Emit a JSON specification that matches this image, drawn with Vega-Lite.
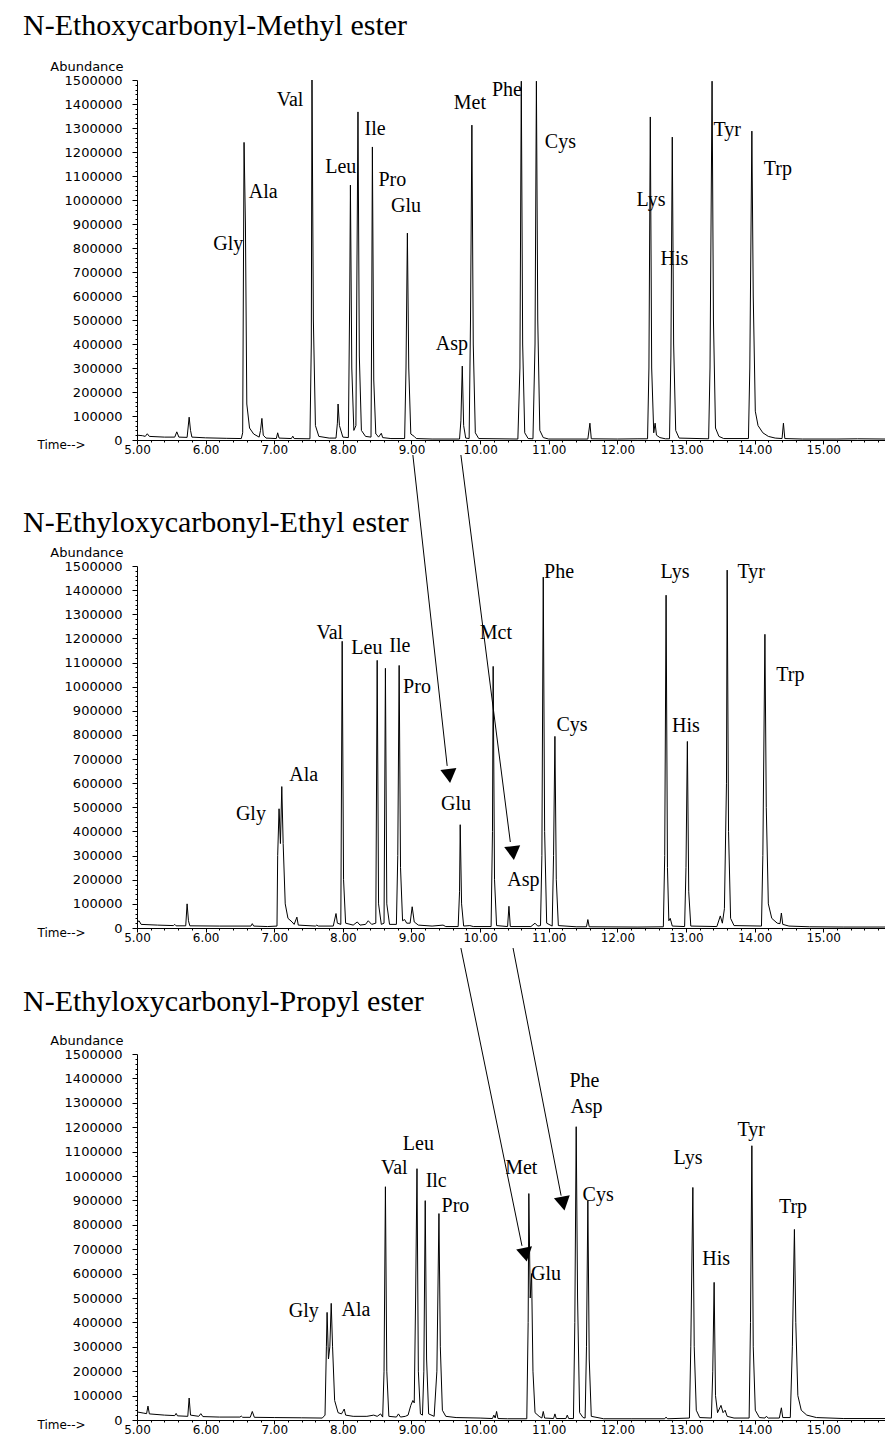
{
"$schema": "https://vega.github.io/schema/vega-lite/v6.json",
"autosize": {"type": "pad"},
"padding": {"left": 23, "top": 11, "right": 0, "bottom": 0},
"background": "white",
"spacing": 126,
"bounds": "flush",
"config": {
  "view": {"stroke": null},
  "axis": {"domainColor": "black", "domainWidth": 1, "tickColor": "black", "tickWidth": 1, "labelColor": "black", "labelFont": "DejaVu Sans", "labelFontSize": 12, "titleFont": "DejaVu Sans", "titleFontSize": 12, "titleFontWeight": "normal", "titleColor": "black", "grid": false},
  "title": {"font": "Liberation Serif", "fontSize": 30, "fontWeight": "normal", "color": "black", "anchor": "start", "frame": "group"},
  "text": {"font": "Liberation Serif", "fontSize": 20, "color": "black"}
},
"datasets": {
"trace": [
{"p":1,"t":5.00,"a":20000},{"p":1,"t":5.08,"a":18000},{"p":1,"t":5.12,"a":15000},{"p":1,"t":5.15,"a":26000},{"p":1,"t":5.18,"a":15000},{"p":1,"t":5.40,"a":12000},{"p":1,"t":5.55,"a":12000},{"p":1,"t":5.58,"a":34000},{"p":1,"t":5.61,"a":12000},{"p":1,"t":5.73,"a":11000},{"p":1,"t":5.76,"a":95000},{"p":1,"t":5.78,"a":40000},{"p":1,"t":5.80,"a":12000},{"p":1,"t":6.00,"a":9000},{"p":1,"t":6.30,"a":7000},{"p":1,"t":6.52,"a":6000},{"p":1,"t":6.54,"a":30000},{"p":1,"t":6.56,"a":1240000},{"p":1,"t":6.58,"a":900000},{"p":1,"t":6.60,"a":150000},{"p":1,"t":6.64,"a":50000},{"p":1,"t":6.70,"a":25000},{"p":1,"t":6.78,"a":12000},{"p":1,"t":6.80,"a":40000},{"p":1,"t":6.82,"a":90000},{"p":1,"t":6.84,"a":20000},{"p":1,"t":6.88,"a":8000},{"p":1,"t":7.03,"a":6000},{"p":1,"t":7.05,"a":30000},{"p":1,"t":7.07,"a":8000},{"p":1,"t":7.25,"a":6000},{"p":1,"t":7.27,"a":16000},{"p":1,"t":7.29,"a":6000},{"p":1,"t":7.52,"a":5000},{"p":1,"t":7.54,"a":400000},{"p":1,"t":7.55,"a":1500000},{"p":1,"t":7.57,"a":500000},{"p":1,"t":7.60,"a":60000},{"p":1,"t":7.65,"a":15000},{"p":1,"t":7.80,"a":8000},{"p":1,"t":7.90,"a":8000},{"p":1,"t":7.92,"a":70000},{"p":1,"t":7.93,"a":150000},{"p":1,"t":7.95,"a":60000},{"p":1,"t":8.00,"a":12000},{"p":1,"t":8.08,"a":10000},{"p":1,"t":8.10,"a":600000},{"p":1,"t":8.11,"a":1062000},{"p":1,"t":8.13,"a":300000},{"p":1,"t":8.16,"a":40000},{"p":1,"t":8.19,"a":60000},{"p":1,"t":8.22,"a":1367000},{"p":1,"t":8.24,"a":350000},{"p":1,"t":8.27,"a":40000},{"p":1,"t":8.33,"a":15000},{"p":1,"t":8.41,"a":12000},{"p":1,"t":8.42,"a":500000},{"p":1,"t":8.43,"a":1221000},{"p":1,"t":8.45,"a":250000},{"p":1,"t":8.48,"a":25000},{"p":1,"t":8.50,"a":20000},{"p":1,"t":8.52,"a":12000},{"p":1,"t":8.56,"a":28000},{"p":1,"t":8.58,"a":10000},{"p":1,"t":8.70,"a":6000},{"p":1,"t":8.90,"a":6000},{"p":1,"t":8.92,"a":300000},{"p":1,"t":8.94,"a":862000},{"p":1,"t":8.96,"a":300000},{"p":1,"t":8.99,"a":25000},{"p":1,"t":9.04,"a":15000},{"p":1,"t":9.07,"a":6000},{"p":1,"t":9.30,"a":4000},{"p":1,"t":9.70,"a":4000},{"p":1,"t":9.72,"a":80000},{"p":1,"t":9.74,"a":308000},{"p":1,"t":9.76,"a":60000},{"p":1,"t":9.79,"a":8000},{"p":1,"t":9.84,"a":6000},{"p":1,"t":9.86,"a":500000},{"p":1,"t":9.88,"a":1312000},{"p":1,"t":9.90,"a":400000},{"p":1,"t":9.93,"a":30000},{"p":1,"t":9.98,"a":6000},{"p":1,"t":10.55,"a":4000},{"p":1,"t":10.58,"a":300000},{"p":1,"t":10.60,"a":1495000},{"p":1,"t":10.62,"a":400000},{"p":1,"t":10.65,"a":30000},{"p":1,"t":10.70,"a":6000},{"p":1,"t":10.77,"a":5000},{"p":1,"t":10.80,"a":400000},{"p":1,"t":10.82,"a":1495000},{"p":1,"t":10.84,"a":500000},{"p":1,"t":10.87,"a":40000},{"p":1,"t":10.92,"a":10000},{"p":1,"t":11.00,"a":4000},{"p":1,"t":11.57,"a":4000},{"p":1,"t":11.60,"a":70000},{"p":1,"t":11.62,"a":5000},{"p":1,"t":12.00,"a":4000},{"p":1,"t":12.30,"a":5000},{"p":1,"t":12.44,"a":5000},{"p":1,"t":12.46,"a":300000},{"p":1,"t":12.48,"a":1346000},{"p":1,"t":12.50,"a":300000},{"p":1,"t":12.53,"a":30000},{"p":1,"t":12.55,"a":70000},{"p":1,"t":12.57,"a":20000},{"p":1,"t":12.62,"a":10000},{"p":1,"t":12.70,"a":5000},{"p":1,"t":12.76,"a":5000},{"p":1,"t":12.78,"a":350000},{"p":1,"t":12.80,"a":1262000},{"p":1,"t":12.82,"a":400000},{"p":1,"t":12.85,"a":40000},{"p":1,"t":12.90,"a":8000},{"p":1,"t":13.33,"a":5000},{"p":1,"t":13.35,"a":300000},{"p":1,"t":13.38,"a":1495000},{"p":1,"t":13.40,"a":500000},{"p":1,"t":13.43,"a":50000},{"p":1,"t":13.48,"a":15000},{"p":1,"t":13.55,"a":6000},{"p":1,"t":13.91,"a":6000},{"p":1,"t":13.93,"a":300000},{"p":1,"t":13.96,"a":1287000},{"p":1,"t":13.98,"a":600000},{"p":1,"t":14.01,"a":120000},{"p":1,"t":14.05,"a":60000},{"p":1,"t":14.12,"a":30000},{"p":1,"t":14.20,"a":15000},{"p":1,"t":14.30,"a":8000},{"p":1,"t":14.40,"a":6000},{"p":1,"t":14.42,"a":70000},{"p":1,"t":14.44,"a":6000},{"p":1,"t":14.70,"a":4000},{"p":1,"t":15.20,"a":4000},{"p":1,"t":15.50,"a":5000},{"p":1,"t":15.90,"a":4000},
{"p":2,"t":5.00,"a":22000},{"p":2,"t":5.03,"a":30000},{"p":2,"t":5.06,"a":15000},{"p":2,"t":5.30,"a":12000},{"p":2,"t":5.53,"a":10000},{"p":2,"t":5.55,"a":15000},{"p":2,"t":5.57,"a":9000},{"p":2,"t":5.71,"a":9000},{"p":2,"t":5.73,"a":100000},{"p":2,"t":5.75,"a":30000},{"p":2,"t":5.77,"a":9000},{"p":2,"t":6.20,"a":8000},{"p":2,"t":6.66,"a":8000},{"p":2,"t":6.68,"a":18000},{"p":2,"t":6.70,"a":8000},{"p":2,"t":6.90,"a":6000},{"p":2,"t":7.04,"a":8000},{"p":2,"t":7.05,"a":300000},{"p":2,"t":7.07,"a":494000},{"p":2,"t":7.09,"a":350000},{"p":2,"t":7.11,"a":586000},{"p":2,"t":7.13,"a":350000},{"p":2,"t":7.16,"a":100000},{"p":2,"t":7.20,"a":40000},{"p":2,"t":7.26,"a":25000},{"p":2,"t":7.29,"a":15000},{"p":2,"t":7.33,"a":45000},{"p":2,"t":7.35,"a":12000},{"p":2,"t":7.60,"a":8000},{"p":2,"t":7.62,"a":12000},{"p":2,"t":7.64,"a":8000},{"p":2,"t":7.86,"a":8000},{"p":2,"t":7.90,"a":60000},{"p":2,"t":7.92,"a":20000},{"p":2,"t":7.97,"a":15000},{"p":2,"t":7.99,"a":1188000},{"p":2,"t":8.01,"a":200000},{"p":2,"t":8.04,"a":20000},{"p":2,"t":8.15,"a":12000},{"p":2,"t":8.21,"a":25000},{"p":2,"t":8.25,"a":12000},{"p":2,"t":8.33,"a":15000},{"p":2,"t":8.37,"a":30000},{"p":2,"t":8.42,"a":15000},{"p":2,"t":8.48,"a":20000},{"p":2,"t":8.50,"a":1109000},{"p":2,"t":8.52,"a":100000},{"p":2,"t":8.56,"a":15000},{"p":2,"t":8.60,"a":20000},{"p":2,"t":8.62,"a":1076000},{"p":2,"t":8.64,"a":100000},{"p":2,"t":8.68,"a":15000},{"p":2,"t":8.78,"a":15000},{"p":2,"t":8.80,"a":300000},{"p":2,"t":8.82,"a":1088000},{"p":2,"t":8.84,"a":250000},{"p":2,"t":8.87,"a":30000},{"p":2,"t":8.90,"a":35000},{"p":2,"t":8.93,"a":20000},{"p":2,"t":8.98,"a":20000},{"p":2,"t":9.01,"a":88000},{"p":2,"t":9.04,"a":25000},{"p":2,"t":9.10,"a":12000},{"p":2,"t":9.30,"a":8000},{"p":2,"t":9.46,"a":12000},{"p":2,"t":9.50,"a":6000},{"p":2,"t":9.68,"a":6000},{"p":2,"t":9.70,"a":150000},{"p":2,"t":9.71,"a":428000},{"p":2,"t":9.73,"a":100000},{"p":2,"t":9.76,"a":8000},{"p":2,"t":9.85,"a":10000},{"p":2,"t":9.90,"a":6000},{"p":2,"t":10.16,"a":6000},{"p":2,"t":10.18,"a":400000},{"p":2,"t":10.19,"a":1084000},{"p":2,"t":10.21,"a":200000},{"p":2,"t":10.24,"a":10000},{"p":2,"t":10.40,"a":6000},{"p":2,"t":10.42,"a":90000},{"p":2,"t":10.44,"a":6000},{"p":2,"t":10.74,"a":6000},{"p":2,"t":10.80,"a":20000},{"p":2,"t":10.84,"a":8000},{"p":2,"t":10.88,"a":10000},{"p":2,"t":10.90,"a":300000},{"p":2,"t":10.92,"a":1454000},{"p":2,"t":10.94,"a":400000},{"p":2,"t":10.97,"a":20000},{"p":2,"t":11.05,"a":8000},{"p":2,"t":11.07,"a":300000},{"p":2,"t":11.09,"a":794000},{"p":2,"t":11.11,"a":200000},{"p":2,"t":11.14,"a":10000},{"p":2,"t":11.40,"a":5000},{"p":2,"t":11.55,"a":5000},{"p":2,"t":11.57,"a":35000},{"p":2,"t":11.59,"a":5000},{"p":2,"t":12.30,"a":4000},{"p":2,"t":12.67,"a":5000},{"p":2,"t":12.69,"a":300000},{"p":2,"t":12.71,"a":1379000},{"p":2,"t":12.73,"a":250000},{"p":2,"t":12.75,"a":30000},{"p":2,"t":12.77,"a":40000},{"p":2,"t":12.80,"a":8000},{"p":2,"t":12.98,"a":6000},{"p":2,"t":13.00,"a":250000},{"p":2,"t":13.02,"a":773000},{"p":2,"t":13.04,"a":150000},{"p":2,"t":13.07,"a":8000},{"p":2,"t":13.45,"a":6000},{"p":2,"t":13.50,"a":50000},{"p":2,"t":13.53,"a":20000},{"p":2,"t":13.56,"a":80000},{"p":2,"t":13.59,"a":600000},{"p":2,"t":13.60,"a":1483000},{"p":2,"t":13.62,"a":400000},{"p":2,"t":13.65,"a":40000},{"p":2,"t":13.70,"a":10000},{"p":2,"t":14.10,"a":8000},{"p":2,"t":14.12,"a":300000},{"p":2,"t":14.15,"a":1217000},{"p":2,"t":14.17,"a":500000},{"p":2,"t":14.20,"a":100000},{"p":2,"t":14.25,"a":40000},{"p":2,"t":14.33,"a":20000},{"p":2,"t":14.37,"a":18000},{"p":2,"t":14.39,"a":62000},{"p":2,"t":14.41,"a":15000},{"p":2,"t":14.50,"a":8000},{"p":2,"t":14.80,"a":5000},{"p":2,"t":15.30,"a":4000},{"p":2,"t":15.90,"a":4000},
{"p":3,"t":5.00,"a":33000},{"p":3,"t":5.10,"a":28000},{"p":3,"t":5.14,"a":26000},{"p":3,"t":5.16,"a":57000},{"p":3,"t":5.18,"a":25000},{"p":3,"t":5.40,"a":20000},{"p":3,"t":5.55,"a":18000},{"p":3,"t":5.57,"a":27000},{"p":3,"t":5.59,"a":17000},{"p":3,"t":5.74,"a":15000},{"p":3,"t":5.76,"a":90000},{"p":3,"t":5.78,"a":20000},{"p":3,"t":5.90,"a":15000},{"p":3,"t":5.93,"a":26000},{"p":3,"t":5.96,"a":14000},{"p":3,"t":6.20,"a":12000},{"p":3,"t":6.50,"a":12000},{"p":3,"t":6.52,"a":16000},{"p":3,"t":6.54,"a":11000},{"p":3,"t":6.65,"a":11000},{"p":3,"t":6.68,"a":35000},{"p":3,"t":6.71,"a":11000},{"p":3,"t":7.00,"a":10000},{"p":3,"t":7.40,"a":9000},{"p":3,"t":7.70,"a":8000},{"p":3,"t":7.74,"a":20000},{"p":3,"t":7.76,"a":300000},{"p":3,"t":7.77,"a":441000},{"p":3,"t":7.79,"a":250000},{"p":3,"t":7.81,"a":300000},{"p":3,"t":7.83,"a":478000},{"p":3,"t":7.85,"a":300000},{"p":3,"t":7.88,"a":80000},{"p":3,"t":7.93,"a":30000},{"p":3,"t":7.98,"a":25000},{"p":3,"t":8.00,"a":35000},{"p":3,"t":8.02,"a":45000},{"p":3,"t":8.04,"a":20000},{"p":3,"t":8.15,"a":15000},{"p":3,"t":8.35,"a":15000},{"p":3,"t":8.45,"a":20000},{"p":3,"t":8.50,"a":15000},{"p":3,"t":8.55,"a":25000},{"p":3,"t":8.58,"a":12000},{"p":3,"t":8.60,"a":200000},{"p":3,"t":8.62,"a":956000},{"p":3,"t":8.64,"a":200000},{"p":3,"t":8.67,"a":15000},{"p":3,"t":8.78,"a":12000},{"p":3,"t":8.81,"a":25000},{"p":3,"t":8.84,"a":12000},{"p":3,"t":8.91,"a":15000},{"p":3,"t":8.95,"a":20000},{"p":3,"t":8.99,"a":60000},{"p":3,"t":9.02,"a":80000},{"p":3,"t":9.04,"a":70000},{"p":3,"t":9.06,"a":500000},{"p":3,"t":9.08,"a":1030000},{"p":3,"t":9.10,"a":200000},{"p":3,"t":9.13,"a":25000},{"p":3,"t":9.16,"a":20000},{"p":3,"t":9.18,"a":200000},{"p":3,"t":9.20,"a":899000},{"p":3,"t":9.22,"a":250000},{"p":3,"t":9.25,"a":25000},{"p":3,"t":9.33,"a":15000},{"p":3,"t":9.37,"a":200000},{"p":3,"t":9.40,"a":846000},{"p":3,"t":9.42,"a":300000},{"p":3,"t":9.45,"a":40000},{"p":3,"t":9.50,"a":15000},{"p":3,"t":9.65,"a":10000},{"p":3,"t":10.00,"a":8000},{"p":3,"t":10.18,"a":6000},{"p":3,"t":10.20,"a":20000},{"p":3,"t":10.22,"a":8000},{"p":3,"t":10.24,"a":35000},{"p":3,"t":10.26,"a":6000},{"p":3,"t":10.40,"a":5000},{"p":3,"t":10.68,"a":5000},{"p":3,"t":10.70,"a":400000},{"p":3,"t":10.71,"a":928000},{"p":3,"t":10.73,"a":500000},{"p":3,"t":10.75,"a":600000},{"p":3,"t":10.77,"a":200000},{"p":3,"t":10.80,"a":30000},{"p":3,"t":10.86,"a":15000},{"p":3,"t":10.90,"a":8000},{"p":3,"t":10.92,"a":35000},{"p":3,"t":10.94,"a":8000},{"p":3,"t":11.07,"a":6000},{"p":3,"t":11.09,"a":25000},{"p":3,"t":11.11,"a":6000},{"p":3,"t":11.25,"a":6000},{"p":3,"t":11.27,"a":20000},{"p":3,"t":11.29,"a":6000},{"p":3,"t":11.36,"a":6000},{"p":3,"t":11.38,"a":400000},{"p":3,"t":11.40,"a":1202000},{"p":3,"t":11.42,"a":500000},{"p":3,"t":11.45,"a":30000},{"p":3,"t":11.50,"a":10000},{"p":3,"t":11.53,"a":8000},{"p":3,"t":11.55,"a":300000},{"p":3,"t":11.57,"a":899000},{"p":3,"t":11.59,"a":250000},{"p":3,"t":11.62,"a":15000},{"p":3,"t":11.80,"a":5000},{"p":3,"t":12.20,"a":5000},{"p":3,"t":12.69,"a":5000},{"p":3,"t":12.71,"a":12000},{"p":3,"t":12.73,"a":5000},{"p":3,"t":13.05,"a":8000},{"p":3,"t":13.07,"a":300000},{"p":3,"t":13.10,"a":953000},{"p":3,"t":13.12,"a":300000},{"p":3,"t":13.15,"a":40000},{"p":3,"t":13.20,"a":10000},{"p":3,"t":13.37,"a":8000},{"p":3,"t":13.39,"a":200000},{"p":3,"t":13.41,"a":564000},{"p":3,"t":13.43,"a":100000},{"p":3,"t":13.46,"a":30000},{"p":3,"t":13.51,"a":60000},{"p":3,"t":13.54,"a":30000},{"p":3,"t":13.57,"a":40000},{"p":3,"t":13.60,"a":15000},{"p":3,"t":13.70,"a":8000},{"p":3,"t":13.92,"a":8000},{"p":3,"t":13.94,"a":400000},{"p":3,"t":13.96,"a":1124000},{"p":3,"t":13.98,"a":300000},{"p":3,"t":14.01,"a":40000},{"p":3,"t":14.07,"a":10000},{"p":3,"t":14.15,"a":8000},{"p":3,"t":14.17,"a":15000},{"p":3,"t":14.20,"a":8000},{"p":3,"t":14.36,"a":8000},{"p":3,"t":14.39,"a":50000},{"p":3,"t":14.41,"a":10000},{"p":3,"t":14.52,"a":10000},{"p":3,"t":14.55,"a":300000},{"p":3,"t":14.58,"a":781000},{"p":3,"t":14.60,"a":400000},{"p":3,"t":14.63,"a":100000},{"p":3,"t":14.68,"a":40000},{"p":3,"t":14.76,"a":20000},{"p":3,"t":14.90,"a":10000},{"p":3,"t":15.30,"a":6000},{"p":3,"t":15.90,"a":6000}
],
"labels": [
{"p":1,"name":"Gly","t":6.33,"a":816700},{"p":1,"name":"Ala","t":6.84,"a":1033000},{"p":1,"name":"Val","t":7.23,"a":1416700},{"p":1,"name":"Leu","t":7.97,"a":1137500},{"p":1,"name":"Ile","t":8.47,"a":1296000},{"p":1,"name":"Pro","t":8.72,"a":1083000},{"p":1,"name":"Glu","t":8.92,"a":975000},{"p":1,"name":"Asp","t":9.59,"a":400000},{"p":1,"name":"Met","t":9.85,"a":1404000},{"p":1,"name":"Phe","t":10.39,"a":1458000},{"p":1,"name":"Cys","t":11.17,"a":1242000},{"p":1,"name":"Lys","t":12.49,"a":1000000},{"p":1,"name":"His","t":12.83,"a":754000},{"p":1,"name":"Tyr","t":13.60,"a":1292000},{"p":1,"name":"Trp","t":14.34,"a":1129000},
{"p":2,"name":"Gly","t":6.66,"a":474000},{"p":2,"name":"Ala","t":7.43,"a":632000},{"p":2,"name":"Val","t":7.81,"a":1222000},{"p":2,"name":"Leu","t":8.35,"a":1159000},{"p":2,"name":"Ile","t":8.83,"a":1168000},{"p":2,"name":"Pro","t":9.08,"a":997000},{"p":2,"name":"Glu","t":9.65,"a":515000},{"p":2,"name":"Mct","t":10.23,"a":1222000},{"p":2,"name":"Asp","t":10.63,"a":199000},{"p":2,"name":"Phe","t":11.15,"a":1475000},{"p":2,"name":"Cys","t":11.34,"a":843000},{"p":2,"name":"Lys","t":12.84,"a":1475000},{"p":2,"name":"His","t":13.00,"a":835000},{"p":2,"name":"Tyr","t":13.95,"a":1475000},{"p":2,"name":"Trp","t":14.52,"a":1047000},
{"p":3,"name":"Gly","t":7.43,"a":445000},{"p":3,"name":"Ala","t":8.19,"a":450000},{"p":3,"name":"Val","t":8.75,"a":1034000},{"p":3,"name":"Leu","t":9.10,"a":1132000},{"p":3,"name":"Ilc","t":9.36,"a":981000},{"p":3,"name":"Pro","t":9.64,"a":879000},{"p":3,"name":"Met","t":10.60,"a":1034000},{"p":3,"name":"Glu","t":10.96,"a":597000},{"p":3,"name":"Phe","t":11.52,"a":1390000},{"p":3,"name":"Asp","t":11.55,"a":1283000},{"p":3,"name":"Cys","t":11.72,"a":924000},{"p":3,"name":"Lys","t":13.03,"a":1075000},{"p":3,"name":"His","t":13.44,"a":658000},{"p":3,"name":"Tyr","t":13.95,"a":1189000},{"p":3,"name":"Trp","t":14.56,"a":871000}
],
"arrows": [
{"p":1,"t":9.02,"a":-62500,"t2":9.52,"a2":-1358000},{"p":1,"t":9.72,"a":-62500,"t2":10.44,"a2":-1675000},
{"p":2,"t":9.72,"a":-83000,"t2":10.61,"a2":-1317000},{"p":2,"t":10.48,"a":-83000,"t2":11.18,"a2":-1109000}
],
"heads": [
{"p":1,"t":9.55,"a":-1400000},{"p":1,"t":10.48,"a":-1721000},
{"p":2,"t":10.66,"a":-1354000},{"p":2,"t":11.21,"a":-1142000}
]
},
"vconcat": [
{
 "width": 748, "height": 360,
 "title": {"text": "N-Ethoxycarbonyl-Methyl ester", "dx": -114, "offset": 19},
 "encoding": {
  "x": {"field": "t", "type": "quantitative", "scale": {"domain": [5, 15.9], "nice": false, "zero": false},
   "axis": {"title": "Time-->", "titleAlign": "left", "titleBaseline": "middle", "titleX": -100, "titleY": 4, "values": [5,5.2,5.4,5.6,5.8,6,6.2,6.4,6.6,6.8,7,7.2,7.4,7.6,7.8,8,8.2,8.4,8.6,8.8,9,9.2,9.4,9.6,9.8,10,10.2,10.4,10.6,10.8,11,11.2,11.4,11.6,11.8,12,12.2,12.4,12.6,12.8,13,13.2,13.4,13.6,13.8,14,14.2,14.4,14.6,14.8,15,15.2,15.4,15.6,15.8], "labelExpr": "abs(datum.value - round(datum.value)) < 0.001 ? format(datum.value, '.2f') : ''", "tickSize": {"condition": {"test": "abs(datum.value - round(datum.value)) < 0.001", "value": 4}, "value": 2}, "labelPadding": 0, "labelOverlap": false, "labelFlush": false}},
  "y": {"field": "a", "type": "quantitative", "scale": {"domain": [0, 1500000], "nice": false},
   "axis": {"title": "Abundance", "titleAngle": 0, "titleAlign": "right", "titleBaseline": "alphabetic", "titleX": -14, "titleY": -10, "titleFontSize": 13, "values": [0,20000,40000,60000,80000,100000,120000,140000,160000,180000,200000,220000,240000,260000,280000,300000,320000,340000,360000,380000,400000,420000,440000,460000,480000,500000,520000,540000,560000,580000,600000,620000,640000,660000,680000,700000,720000,740000,760000,780000,800000,820000,840000,860000,880000,900000,920000,940000,960000,980000,1000000,1020000,1040000,1060000,1080000,1100000,1120000,1140000,1160000,1180000,1200000,1220000,1240000,1260000,1280000,1300000,1320000,1340000,1360000,1380000,1400000,1420000,1440000,1460000,1480000,1500000], "format": "d", "labelExpr": "datum.value % 100000 === 0 ? datum.label : ''", "tickSize": {"condition": {"test": "datum.value % 100000 === 0", "value": 5}, "value": 2}, "labelPadding": 10, "labelFontSize": 13, "labelOverlap": false}}
 },
 "layer": [
  {"data": {"name": "trace"}, "transform": [{"filter": "datum.p === 1"}], "mark": {"type": "line", "color": "black", "strokeWidth": 1, "clip": true}},
  {"data": {"name": "labels"}, "transform": [{"filter": "datum.p === 1"}], "mark": {"type": "text", "align": "center", "baseline": "middle"}, "encoding": {"text": {"field": "name"}}},
  {"data": {"name": "arrows"}, "transform": [{"filter": "datum.p === 1"}], "mark": {"type": "rule", "color": "black", "strokeWidth": 1, "clip": false}, "encoding": {"x2": {"field": "t2"}, "y2": {"field": "a2"}}},
  {"data": {"name": "heads"}, "transform": [{"filter": "datum.p === 1"}], "mark": {"type": "point", "shape": "triangle-down", "filled": true, "color": "black", "opacity": 1, "size": 260, "angle": -7, "clip": false}}
 ]
},
{
 "width": 748, "height": 362,
 "title": {"text": "N-Ethyloxycarbonyl-Ethyl ester", "dx": -114, "offset": 8},
 "encoding": {
  "x": {"field": "t", "type": "quantitative", "scale": {"domain": [5, 15.9], "nice": false, "zero": false},
   "axis": {"title": "Time-->", "titleAlign": "left", "titleBaseline": "middle", "titleX": -100, "titleY": 4, "values": [5,5.2,5.4,5.6,5.8,6,6.2,6.4,6.6,6.8,7,7.2,7.4,7.6,7.8,8,8.2,8.4,8.6,8.8,9,9.2,9.4,9.6,9.8,10,10.2,10.4,10.6,10.8,11,11.2,11.4,11.6,11.8,12,12.2,12.4,12.6,12.8,13,13.2,13.4,13.6,13.8,14,14.2,14.4,14.6,14.8,15,15.2,15.4,15.6,15.8], "labelExpr": "abs(datum.value - round(datum.value)) < 0.001 ? format(datum.value, '.2f') : ''", "tickSize": {"condition": {"test": "abs(datum.value - round(datum.value)) < 0.001", "value": 4}, "value": 2}, "labelPadding": 0, "labelOverlap": false, "labelFlush": false}},
  "y": {"field": "a", "type": "quantitative", "scale": {"domain": [0, 1500000], "nice": false},
   "axis": {"title": "Abundance", "titleAngle": 0, "titleAlign": "right", "titleBaseline": "alphabetic", "titleX": -14, "titleY": -10, "titleFontSize": 13, "values": [0,20000,40000,60000,80000,100000,120000,140000,160000,180000,200000,220000,240000,260000,280000,300000,320000,340000,360000,380000,400000,420000,440000,460000,480000,500000,520000,540000,560000,580000,600000,620000,640000,660000,680000,700000,720000,740000,760000,780000,800000,820000,840000,860000,880000,900000,920000,940000,960000,980000,1000000,1020000,1040000,1060000,1080000,1100000,1120000,1140000,1160000,1180000,1200000,1220000,1240000,1260000,1280000,1300000,1320000,1340000,1360000,1380000,1400000,1420000,1440000,1460000,1480000,1500000], "format": "d", "labelExpr": "datum.value % 100000 === 0 ? datum.label : ''", "tickSize": {"condition": {"test": "datum.value % 100000 === 0", "value": 5}, "value": 2}, "labelPadding": 10, "labelFontSize": 13, "labelOverlap": false}}
 },
 "layer": [
  {"data": {"name": "trace"}, "transform": [{"filter": "datum.p === 2"}], "mark": {"type": "line", "color": "black", "strokeWidth": 1, "clip": true}},
  {"data": {"name": "labels"}, "transform": [{"filter": "datum.p === 2"}], "mark": {"type": "text", "align": "center", "baseline": "middle"}, "encoding": {"text": {"field": "name"}}},
  {"data": {"name": "arrows"}, "transform": [{"filter": "datum.p === 2"}], "mark": {"type": "rule", "color": "black", "strokeWidth": 1, "clip": false}, "encoding": {"x2": {"field": "t2"}, "y2": {"field": "a2"}}},
  {"data": {"name": "heads"}, "transform": [{"filter": "datum.p === 2"}], "mark": {"type": "point", "shape": "triangle-down", "filled": true, "color": "black", "opacity": 1, "size": 260, "angle": -11, "clip": false}}
 ]
},
{
 "width": 748, "height": 366,
 "title": {"text": "N-Ethyloxycarbonyl-Propyl ester", "dx": -114, "offset": 17},
 "encoding": {
  "x": {"field": "t", "type": "quantitative", "scale": {"domain": [5, 15.9], "nice": false, "zero": false},
   "axis": {"title": "Time-->", "titleAlign": "left", "titleBaseline": "middle", "titleX": -100, "titleY": 4, "values": [5,5.2,5.4,5.6,5.8,6,6.2,6.4,6.6,6.8,7,7.2,7.4,7.6,7.8,8,8.2,8.4,8.6,8.8,9,9.2,9.4,9.6,9.8,10,10.2,10.4,10.6,10.8,11,11.2,11.4,11.6,11.8,12,12.2,12.4,12.6,12.8,13,13.2,13.4,13.6,13.8,14,14.2,14.4,14.6,14.8,15,15.2,15.4,15.6,15.8], "labelExpr": "abs(datum.value - round(datum.value)) < 0.001 ? format(datum.value, '.2f') : ''", "tickSize": {"condition": {"test": "abs(datum.value - round(datum.value)) < 0.001", "value": 4}, "value": 2}, "labelPadding": 0, "labelOverlap": false, "labelFlush": false}},
  "y": {"field": "a", "type": "quantitative", "scale": {"domain": [0, 1500000], "nice": false},
   "axis": {"title": "Abundance", "titleAngle": 0, "titleAlign": "right", "titleBaseline": "alphabetic", "titleX": -14, "titleY": -10, "titleFontSize": 13, "values": [0,20000,40000,60000,80000,100000,120000,140000,160000,180000,200000,220000,240000,260000,280000,300000,320000,340000,360000,380000,400000,420000,440000,460000,480000,500000,520000,540000,560000,580000,600000,620000,640000,660000,680000,700000,720000,740000,760000,780000,800000,820000,840000,860000,880000,900000,920000,940000,960000,980000,1000000,1020000,1040000,1060000,1080000,1100000,1120000,1140000,1160000,1180000,1200000,1220000,1240000,1260000,1280000,1300000,1320000,1340000,1360000,1380000,1400000,1420000,1440000,1460000,1480000,1500000], "format": "d", "labelExpr": "datum.value % 100000 === 0 ? datum.label : ''", "tickSize": {"condition": {"test": "datum.value % 100000 === 0", "value": 5}, "value": 2}, "labelPadding": 10, "labelFontSize": 13, "labelOverlap": false}}
 },
 "layer": [
  {"data": {"name": "trace"}, "transform": [{"filter": "datum.p === 3"}], "mark": {"type": "line", "color": "black", "strokeWidth": 1, "clip": true}},
  {"data": {"name": "labels"}, "transform": [{"filter": "datum.p === 3"}], "mark": {"type": "text", "align": "center", "baseline": "middle"}, "encoding": {"text": {"field": "name"}}}
 ]
}
]
}
